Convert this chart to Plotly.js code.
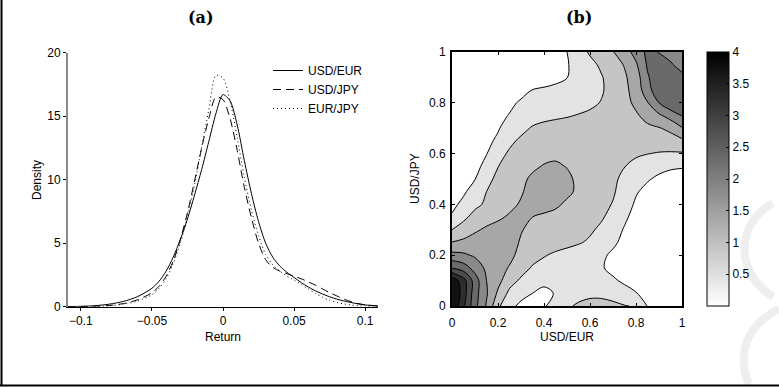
<!DOCTYPE html>
<html><head><meta charset="utf-8">
<script src="https://cdn.plot.ly/plotly-3.0.1.min.js"></script>
<style>html,body{margin:0;padding:0;background:#fff}#chart{width:779px;height:387px}</style>
</head><body><div id="chart"></div>
<script>
// ---------- panel (a): kernel densities of returns ----------
const returns = [-0.11,-0.1,-0.09,-0.08,-0.07,-0.06,-0.05,-0.045,-0.04,-0.035,-0.03,-0.025,-0.02,-0.015,-0.01,-0.005,0,0.005,0.01,0.015,0.02,0.025,0.03,0.035,0.04,0.045,0.05,0.055,0.06,0.065,0.07,0.075,0.08,0.085,0.09,0.095,0.1,0.11];
const usdEur = [0.01,0.03,0.08,0.2,0.42,0.8,1.45,2.0,2.8,3.9,5.3,6.9,8.8,10.8,13.0,15.2,16.7,16.2,14.3,11.5,8.9,6.7,5.0,3.9,3.2,2.7,2.3,1.9,1.55,1.25,1.0,0.78,0.6,0.45,0.33,0.22,0.14,0.05];
const usdJpy = [0.0,0.01,0.04,0.1,0.25,0.55,1.1,1.6,2.4,3.6,5.3,7.4,9.9,12.5,14.8,16.5,16.3,14.8,12.3,9.4,7.0,5.0,3.7,3.1,2.8,2.6,2.4,2.2,1.95,1.7,1.4,1.1,0.85,0.6,0.4,0.25,0.15,0.05];
const eurJpy = [0.0,0.01,0.02,0.07,0.2,0.45,0.95,1.45,2.2,3.4,5.0,7.1,9.6,12.6,15.5,18.2,18.0,16.2,13.3,10.2,7.6,5.6,4.1,3.3,2.8,2.4,2.1,1.75,1.4,1.05,0.75,0.5,0.33,0.22,0.14,0.08,0.05,0.02];
const seriesNames = ['USD/EUR','USD/JPY','EUR/JPY'];
const returnTicks = [-0.1,-0.05,0,0.05,0.1];
const returnTickText = ['\u22120.1','\u22120.05','0','0.05','0.1'];
const densityTicks = [0,5,10,15,20];

// ---------- panel (b): copula density USD/EUR vs USD/JPY ----------
const copulaU = [0,0.05,0.1,0.15,0.2,0.25,0.3,0.35,0.4,0.45,0.5,0.55,0.6,0.65,0.7,0.75,0.8,0.85,0.9,0.95,1];
const copulaV = [0,0.05,0.1,0.15,0.2,0.25,0.3,0.35,0.4,0.45,0.5,0.55,0.6,0.65,0.7,0.75,0.8,0.85,0.9,0.95,1];
const copulaDensity = [
 [4.5,3.6,2.65,1.95,1.1,0.6,0.42,0.25,0.45,0.7,0.95,1.05,1.1,1.1,1.07,1.02,0.97,0.48,0.2,0.1,0.08],
 [4.6,3.75,2.7,2.05,1.42,0.88,0.62,0.5,0.3,0.55,0.78,0.88,0.93,0.93,0.88,0.72,0.53,0.3,0.12,0.06,0.05],
 [4.35,3.7,2.75,2.0,1.65,1.2,0.92,0.78,0.7,0.72,0.78,0.8,0.78,0.72,0.58,0.4,0.2,0.08,0.04,0.03,0.03],
 [2.97,2.75,2.3,1.9,1.65,1.47,1.2,0.95,0.85,0.8,0.77,0.74,0.68,0.55,0.35,0.16,0.07,0.04,0.03,0.03,0.03],
 [2.15,2.08,1.93,1.8,1.7,1.6,1.38,1.18,1.03,0.93,0.87,0.82,0.76,0.6,0.4,0.2,0.09,0.05,0.04,0.04,0.04],
 [1.52,1.62,1.72,1.78,1.8,1.7,1.45,1.32,1.24,1.17,1.1,1.03,0.95,0.8,0.6,0.35,0.15,0.07,0.05,0.04,0.04],
 [1.0,1.2,1.43,1.58,1.68,1.7,1.53,1.38,1.3,1.24,1.18,1.12,1.05,0.93,0.75,0.45,0.2,0.1,0.06,0.05,0.05],
 [0.55,0.9,1.15,1.3,1.42,1.56,1.6,1.5,1.4,1.33,1.25,1.18,1.12,1.04,0.88,0.6,0.3,0.15,0.09,0.07,0.06],
 [0.4,0.6,0.9,1.07,1.25,1.38,1.55,1.7,1.72,1.6,1.4,1.27,1.17,1.1,0.98,0.75,0.42,0.22,0.13,0.1,0.09],
 [0.37,0.44,0.68,1.0,1.18,1.3,1.45,1.68,1.78,1.77,1.62,1.4,1.25,1.14,1.04,0.85,0.55,0.35,0.22,0.17,0.15],
 [0.33,0.42,0.49,0.85,1.12,1.27,1.4,1.58,1.7,1.72,1.6,1.4,1.27,1.17,1.08,0.9,0.7,0.55,0.4,0.3,0.25],
 [0.3,0.38,0.44,0.56,0.99,1.17,1.3,1.42,1.53,1.57,1.48,1.36,1.25,1.15,1.07,1.01,0.9,0.77,0.66,0.58,0.55],
 [0.26,0.33,0.43,0.49,0.8,1.08,1.22,1.3,1.36,1.4,1.38,1.33,1.27,1.21,1.15,1.1,1.05,1.01,0.97,0.95,0.95],
 [0.22,0.29,0.38,0.42,0.56,0.88,1.1,1.2,1.26,1.28,1.28,1.27,1.26,1.25,1.24,1.23,1.22,1.22,1.23,1.28,1.4],
 [0.18,0.23,0.3,0.39,0.47,0.66,0.85,1.05,1.12,1.15,1.17,1.19,1.21,1.24,1.27,1.31,1.36,1.41,1.47,1.62,1.96],
 [0.15,0.18,0.23,0.31,0.4,0.52,0.65,0.78,0.88,0.93,0.97,1.02,1.07,1.13,1.22,1.32,1.44,1.65,1.92,2.2,2.52],
 [0.12,0.14,0.17,0.22,0.3,0.42,0.55,0.63,0.68,0.72,0.78,0.85,0.92,1.02,1.18,1.35,1.6,1.97,2.5,2.9,2.85],
 [0.1,0.11,0.12,0.14,0.18,0.26,0.38,0.51,0.56,0.6,0.68,0.78,0.87,0.96,1.15,1.38,1.7,2.3,2.85,2.92,2.75],
 [0.07,0.08,0.09,0.1,0.12,0.14,0.17,0.23,0.3,0.39,0.49,0.66,0.82,0.97,1.2,1.43,1.75,2.45,2.78,2.8,2.6],
 [0.06,0.06,0.07,0.08,0.09,0.11,0.13,0.17,0.24,0.35,0.47,0.66,0.87,1.08,1.3,1.53,1.93,2.56,2.72,2.55,2.35],
 [0.05,0.05,0.06,0.07,0.08,0.1,0.12,0.15,0.22,0.33,0.5,0.8,1.06,1.27,1.48,1.79,2.18,2.62,2.48,2.35,2.2]
];
const unitTicks = [0,0.2,0.4,0.6,0.8,1];
const unitTickText = ['0','0.2','0.4','0.6','0.8','1'];
const colorbarTicks = [0.5,1,1.5,2,2.5,3,3.5,4];
const colorbarTickText = ['0.5','1','1.5','2','2.5','3','3.5','4'];

// ---------- figure ----------
const W = 779, H = 387;
const px = x => x / W;           // pixel -> paper x
const py = y => 1 - y / H;        // pixel (from top) -> paper y
const sans = 'Liberation Sans, Arial, Helvetica, sans-serif';
const serif = 'DejaVu Serif, Liberation Serif, serif';

const traces = [
  {x: returns, y: usdEur, name: seriesNames[0], type: 'scatter', mode: 'lines',
   line: {color: '#000', width: 1, shape: 'spline', smoothing: 0.8}, xaxis: 'x', yaxis: 'y'},
  {x: returns, y: usdJpy, name: seriesNames[1], type: 'scatter', mode: 'lines',
   line: {color: '#000', width: 1, dash: '8px,5px', shape: 'spline', smoothing: 0.8}, xaxis: 'x', yaxis: 'y'},
  {x: returns, y: eurJpy, name: seriesNames[2], type: 'scatter', mode: 'lines',
   line: {color: '#000', width: 1, dash: '1px,3px', shape: 'spline', smoothing: 0.8}, xaxis: 'x', yaxis: 'y'},
  {x: copulaU, y: copulaV, z: copulaDensity, type: 'heatmap', xaxis: 'x2', yaxis: 'y2',
   zmin: 0, zmax: 4, colorscale: [[0,'#ffffff'],[1,'#000000']], showlegend: false,
   showscale: true, hoverinfo: 'skip',
   colorbar: {x: px(707), xanchor: 'left', y: py(306), yanchor: 'bottom',
     thickness: 22, thicknessmode: 'pixels', len: 254 / H, lenmode: 'fraction',
     outlinewidth: 1, outlinecolor: '#000', xpad: 0, ypad: 0,
     tickvals: colorbarTicks, ticktext: colorbarTickText, ticks: 'inside', ticklen: 3,
     tickcolor: '#000', tickfont: {family: sans, size: 12, color: '#000'}}},
  {x: copulaU, y: copulaV, z: copulaDensity, type: 'contour', xaxis: 'x2', yaxis: 'y2',
   autocontour: false, showscale: false, showlegend: false, hoverinfo: 'skip',
   contours: {start: 0.5, end: 4, size: 0.5, coloring: 'fill'},
   colorscale: [[0,'#ffffff'],[0.125,'#e3e3e3'],[0.25,'#c5c5c5'],[0.375,'#a7a7a7'],[0.5,'#898989'],
                [0.625,'#6a6a6a'],[0.75,'#4c4c4c'],[0.875,'#2e2e2e'],[1,'#121212']],
   line: {color: '#000', width: 1, smoothing: 1}}
];

const ann = (text, x, y, font, extra) => Object.assign({text, x: px(x), y: py(y), xref: 'paper', yref: 'paper',
  showarrow: false, xanchor: 'center', yanchor: 'middle', font}, extra || {});

// pixel-space path -> paper-space path (decorative watermark)
const pathPx = pts => pts.map(([c, coords]) => c + ' ' + coords.map((v, i) => i % 2 === 0 ? px(v) : py(v)).join(',')).join(' ');

const layout = {
  width: W, height: H,
  margin: {l: 0, r: 0, t: 0, b: 0},
  paper_bgcolor: '#fff', plot_bgcolor: 'rgba(0,0,0,0)',
  font: {family: sans, size: 12, color: '#000'},
  showlegend: true,
  legend: {x: px(268), y: py(56), xanchor: 'left', yanchor: 'top', bgcolor: 'rgba(0,0,0,0)',
    font: {family: sans, size: 12, color: '#000'}, tracegroupgap: 0},
  xaxis: {domain: [px(68), px(378)], range: [-0.109, 0.109], anchor: 'y',
    tickvals: returnTicks, ticktext: returnTickText, ticks: 'outside', ticklen: 3, tickcolor: '#000',
    showline: true, linecolor: '#000', linewidth: 1, showgrid: false, zeroline: false,
    tickfont: {family: sans, size: 12}},
  yaxis: {domain: [py(306.7), py(52.7)], range: [0, 20], anchor: 'x',
    tickvals: densityTicks, ticks: 'outside', ticklen: 3, tickcolor: '#000',
    showline: true, linecolor: '#888', linewidth: 2, showgrid: false, zeroline: false,
    tickfont: {family: sans, size: 12}},
  xaxis2: {domain: [px(452), px(682)], range: [0, 1], anchor: 'y2',
    tickvals: unitTicks, ticktext: unitTickText, ticks: 'inside', ticklen: 3, tickcolor: '#000',
    showline: true, linecolor: '#000', linewidth: 2, mirror: 'allticks', showgrid: false, zeroline: false,
    ticklabelstandoff: 5, tickfont: {family: sans, size: 12}},
  yaxis2: {domain: [py(306), py(52)], range: [0, 1], anchor: 'x2',
    tickvals: unitTicks, ticktext: unitTickText, ticks: 'inside', ticklen: 3, tickcolor: '#000',
    showline: true, linecolor: '#000', linewidth: 2, mirror: 'allticks', showgrid: false, zeroline: false,
    ticklabelstandoff: 2, tickfont: {family: sans, size: 12}},
  annotations: [
    ann('<b>(a)</b>', 201, 18, {family: serif, size: 16, color: '#000'}),
    ann('<b>(b)</b>', 579, 18, {family: serif, size: 16, color: '#000'}),
    ann('Return', 223, 337, {family: sans, size: 12}),
    ann('Density', 37, 180, {family: sans, size: 12}, {textangle: -90}),
    ann('USD/EUR', 567, 337, {family: sans, size: 12}),
    ann('USD/JPY', 415, 179, {family: sans, size: 12}, {textangle: -90})
  ],
  shapes: [
    {type: 'path', xref: 'paper', yref: 'paper', layer: 'below',
     path: pathPx([['M', [773, 203]], ['C', [753, 214, 742, 234, 745, 257]], ['C', [748, 274, 758, 287, 773, 297]]]),
     line: {color: '#eeeeee', width: 8}},
    {type: 'path', xref: 'paper', yref: 'paper', layer: 'below',
     path: pathPx([['M', [779, 309]], ['C', [760, 318, 745, 335, 744, 355]], ['C', [743, 368, 746, 378, 749, 384]]]),
     line: {color: '#eeeeee', width: 8}},
    {type: 'line', xref: 'paper', yref: 'paper', x0: px(1.5), x1: px(1.5), y0: py(0), y1: py(385.5), line: {color: '#000', width: 2}},
    {type: 'line', xref: 'paper', yref: 'paper', x0: px(0), x1: px(779), y0: py(385.5), y1: py(385.5), line: {color: '#000', width: 2}}
  ]
};

Plotly.newPlot('chart', traces, layout, {staticPlot: true, displayModeBar: false});
</script>
</body></html>
